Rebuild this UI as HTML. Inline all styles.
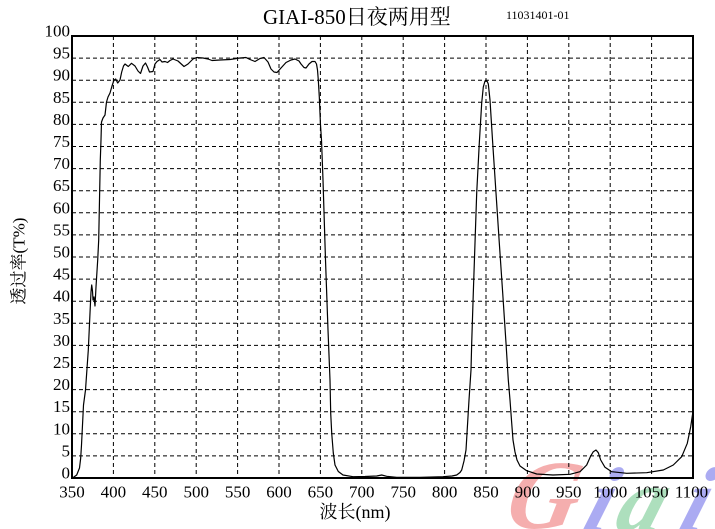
<!DOCTYPE html>
<html>
<head>
<meta charset="utf-8">
<style>
html,body{margin:0;padding:0;background:#fff;}
svg{display:block;}
</style>
</head>
<body>
<svg width="715" height="529" viewBox="0 0 715 529" xmlns="http://www.w3.org/2000/svg">
<rect x="0" y="0" width="715" height="529" fill="#fff"/>

<!-- watermark -->
<g font-family="Liberation Serif, serif" font-style="italic" font-weight="bold">
  <text x="0" y="0" font-size="98" fill="#f29a9a" fill-opacity="0.8" transform="translate(503,528) skewX(-12)">G</text>
  <text x="0" y="0" font-size="92" fill="#9c9cf0" fill-opacity="0.85" transform="translate(580,531) skewX(-18)">i</text>
  <text x="0" y="0" font-size="92" fill="#9fd9b2" fill-opacity="0.85" transform="translate(612,531) skewX(-18)">a</text>
  <text x="0" y="0" font-size="92" fill="#9c9cf0" fill-opacity="0.85" transform="translate(676,531) skewX(-18)">i</text>
</g>

<!-- grid -->
<g stroke="#000" stroke-width="1" stroke-dasharray="4,3" fill="none">
  <line x1="113.4" y1="36" x2="113.4" y2="478"/>
  <line x1="154.8" y1="36" x2="154.8" y2="478"/>
  <line x1="196.2" y1="36" x2="196.2" y2="478"/>
  <line x1="237.6" y1="36" x2="237.6" y2="478"/>
  <line x1="279" y1="36" x2="279" y2="478"/>
  <line x1="320.4" y1="36" x2="320.4" y2="478"/>
  <line x1="361.8" y1="36" x2="361.8" y2="478"/>
  <line x1="403.2" y1="36" x2="403.2" y2="478"/>
  <line x1="444.6" y1="36" x2="444.6" y2="478"/>
  <line x1="486" y1="36" x2="486" y2="478"/>
  <line x1="527.4" y1="36" x2="527.4" y2="478"/>
  <line x1="568.8" y1="36" x2="568.8" y2="478"/>
  <line x1="610.2" y1="36" x2="610.2" y2="478"/>
  <line x1="651.6" y1="36" x2="651.6" y2="478"/>

  <line x1="72" y1="455.9" x2="693" y2="455.9"/>
  <line x1="72" y1="433.8" x2="693" y2="433.8"/>
  <line x1="72" y1="411.7" x2="693" y2="411.7"/>
  <line x1="72" y1="389.6" x2="693" y2="389.6"/>
  <line x1="72" y1="367.5" x2="693" y2="367.5"/>
  <line x1="72" y1="345.4" x2="693" y2="345.4"/>
  <line x1="72" y1="323.3" x2="693" y2="323.3"/>
  <line x1="72" y1="301.2" x2="693" y2="301.2"/>
  <line x1="72" y1="279.1" x2="693" y2="279.1"/>
  <line x1="72" y1="257" x2="693" y2="257"/>
  <line x1="72" y1="234.9" x2="693" y2="234.9"/>
  <line x1="72" y1="212.8" x2="693" y2="212.8"/>
  <line x1="72" y1="190.7" x2="693" y2="190.7"/>
  <line x1="72" y1="168.6" x2="693" y2="168.6"/>
  <line x1="72" y1="146.5" x2="693" y2="146.5"/>
  <line x1="72" y1="124.4" x2="693" y2="124.4"/>
  <line x1="72" y1="102.3" x2="693" y2="102.3"/>
  <line x1="72" y1="80.2" x2="693" y2="80.2"/>
  <line x1="72" y1="58.1" x2="693" y2="58.1"/>
</g>

<!-- frame -->
<rect x="72" y="36" width="621" height="442" fill="none" stroke="#000" stroke-width="2"/>

<!-- curve -->
<polyline fill="none" stroke="#000" stroke-width="1.2" stroke-linejoin="round" points="
72.5,478 76.7,475 79.5,468 80.7,458 81.5,445 82.5,425 83.5,405 85.5,390 88.3,350 90,313 91,292 91.7,285 92.5,291 93,300 94,297 95,306 96,287 97.7,260 98.7,240 99.5,200 100.3,160 101,140 101.5,122 103,118 105,115 106.5,102 108,97 110,93 112,86 114,80 115.7,79 117.7,83 120,80 121.7,72 123.5,66 125,64 128.3,66.5 131.5,63.3 135,66 138,71 140.5,73.5 143,66 145.5,63 147.5,67 149.5,72 153,71.5 155,64 157,61.5 160,59.5 162,62 165,61.5 167.5,62.5 170,60.5 173,59 178,61 184,66.5 188,64 193,59 197,57.5 203,58 208,59 212,60.5 220,60 230,59.5 240,58 246,57.5 250,59.5 255,61.5 260,58.5 264,57.5 268,62 271,69 274,72 277,72.5 281,68 286,62.5 291,60 295,59 299,61 301,64 304,67.5 306,68 309,64 312,61.5 315,61.5 316.5,64 317.5,70 318.3,80 319.3,97 320.5,125 321.5,140 323,180 325.5,260 328,330 330,380 330.7,413 331.7,433 333.3,453 335,465 338.3,471.5 343,475 353,476.7 365,476.5 376.7,476 381.7,475 386.7,476.3 396.7,477.3 420,477.3 443,476.7 452,476 456.7,475 460,472.5 461.7,470 464,461 466,450 467.5,425 469,400 471,370 471.7,343 473.3,293 475,243 476.7,193 479.3,143 481.7,103 483.3,87 485,81 486,80 487,81 488.3,84 490,100 492.7,143 496,193 499.3,243 502.7,293 506,343 508.3,380 510,400 511.7,423 513,440 515,452 517,460 520,466 526.7,470.7 536.7,474 553,475 570,474.3 580,471.7 586.7,465 590.7,456 593.3,451.7 596,450 598.3,452.7 600.7,460 605,467.3 611.7,471.7 626.7,473.3 646.7,472.7 663.3,470 673.3,465 681.7,456.7 687.3,443.3 690.7,426.7 692.7,413.3 693.3,406.7"/>

<!-- y tick labels -->
<g font-family="Liberation Serif, serif" font-size="17" fill="#000" text-anchor="end" dominant-baseline="central">
  <text x="70" y="31">100</text>
  <text x="70" y="53.1">95</text>
  <text x="70" y="75.2">90</text>
  <text x="70" y="97.3">85</text>
  <text x="70" y="119.4">80</text>
  <text x="70" y="141.5">75</text>
  <text x="70" y="163.6">70</text>
  <text x="70" y="185.7">65</text>
  <text x="70" y="207.8">60</text>
  <text x="70" y="229.9">55</text>
  <text x="70" y="252">50</text>
  <text x="70" y="274.1">45</text>
  <text x="70" y="296.2">40</text>
  <text x="70" y="318.3">35</text>
  <text x="70" y="340.4">30</text>
  <text x="70" y="362.5">25</text>
  <text x="70" y="384.6">20</text>
  <text x="70" y="406.7">15</text>
  <text x="70" y="428.8">10</text>
  <text x="70" y="450.9">5</text>
  <text x="70" y="473">0</text>
</g>

<!-- x tick labels -->
<g font-family="Liberation Serif, serif" font-size="17" fill="#000" text-anchor="middle" dominant-baseline="central">
  <text x="72" y="492">350</text>
  <text x="113.4" y="492">400</text>
  <text x="154.8" y="492">450</text>
  <text x="196.2" y="492">500</text>
  <text x="237.6" y="492">550</text>
  <text x="279" y="492">600</text>
  <text x="320.4" y="492">650</text>
  <text x="361.8" y="492">700</text>
  <text x="403.2" y="492">750</text>
  <text x="444.6" y="492">800</text>
  <text x="486" y="492">850</text>
  <text x="527.4" y="492">900</text>
  <text x="568.8" y="492">950</text>
  <text x="610.2" y="492">1000</text>
  <text x="651.6" y="492">1050</text>
  <text x="691.5" y="492">1100</text>
</g>

<!-- titles -->
<text x="263" y="24" font-family="Liberation Serif, 'Noto Serif CJK SC', 'Noto Sans CJK SC', serif" font-size="21" fill="#000">GIAI-850日夜两用型</text>
<text x="506" y="19" font-family="Liberation Serif, serif" font-size="12" fill="#000">11031401-01</text>
<text x="355" y="512" font-family="Liberation Serif, 'Noto Serif CJK SC', 'Noto Sans CJK SC', serif" font-size="18" fill="#000" text-anchor="middle" dominant-baseline="central">波长(nm)</text>
<text x="0" y="0" font-family="Liberation Serif, 'Noto Serif CJK SC', 'Noto Sans CJK SC', serif" font-size="17" fill="#000" text-anchor="middle" dominant-baseline="central" transform="translate(19,261) rotate(-90)">透过率(T%)</text>
</svg>
</body>
</html>
